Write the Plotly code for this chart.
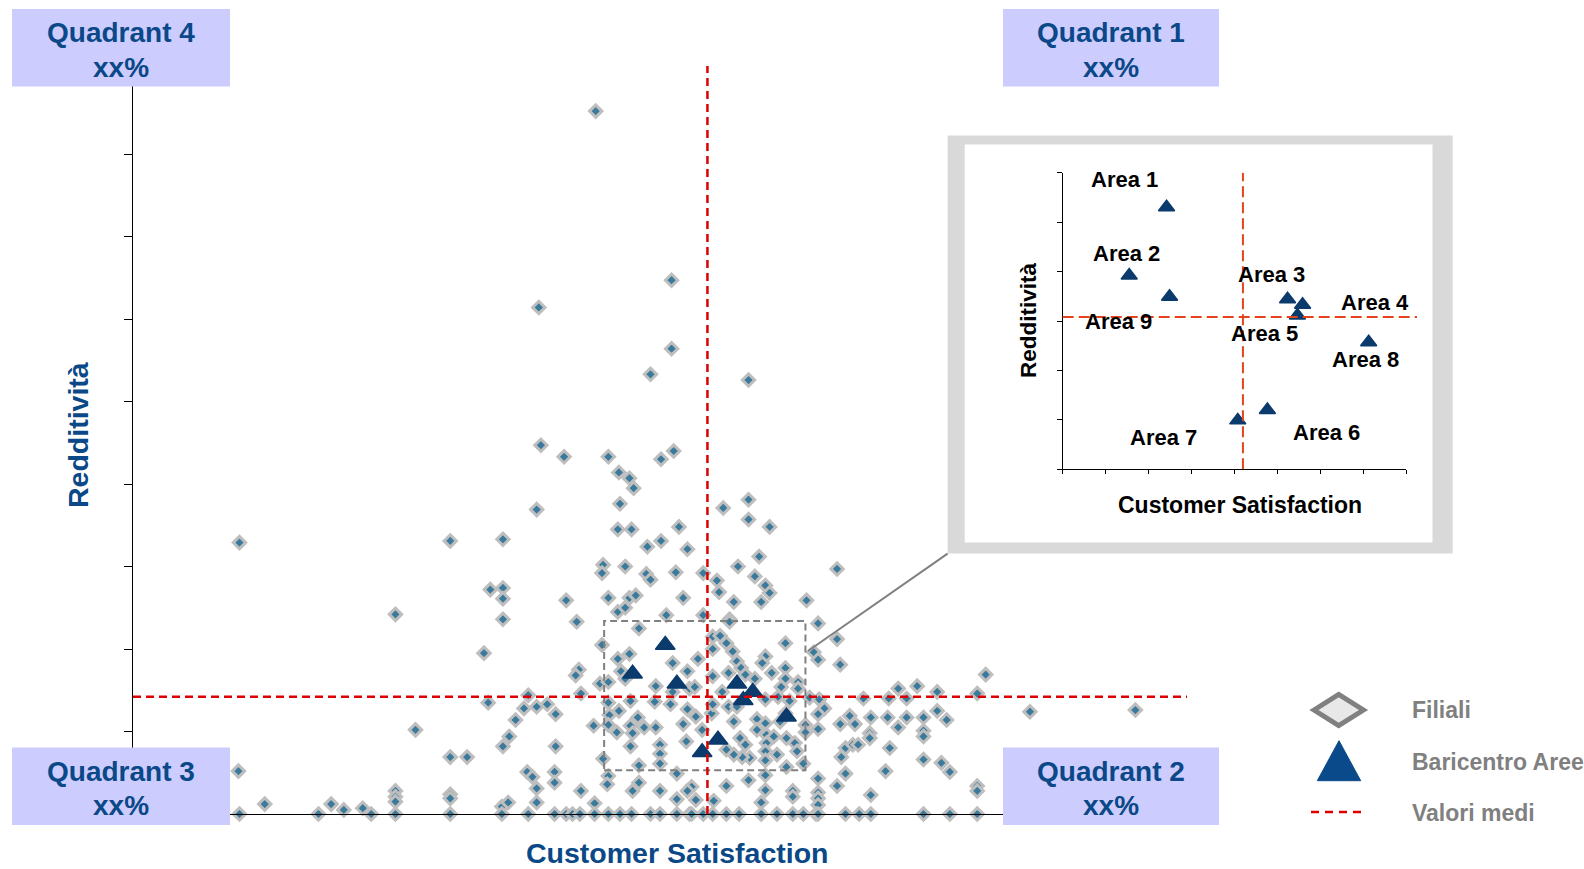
import plotly.graph_objects as go

W, H = 1584, 869


def px(x):
    """horizontal pixel -> paper fraction"""
    return x / W


def py(y):
    """vertical pixel (measured from the top) -> paper fraction"""
    return 1 - y / H


FONT = "Liberation Sans, Arial, sans-serif"
BLUE_TXT = "#0A4887"
RED = "#DD0000"
RED_ZOOM = "#E2441C"
GREY = "#808080"

# ---------------------------------------------------------------- data
# Filiali: Customer Satisfaction (x) vs Redditività (y)
filiali_cs = [
    43.9, 51.1, 38.5, 51.1, 49.1, 58.4, 38.7, 40.9, 45.1, 50.1,
    51.3, 46.1, 47.1, 47.5, 46.2, 38.3, 56.0, 58.4, 58.4, 60.4,
    30.1, 35.1, 46.0, 47.3, 51.8, 48.8, 50.1, 52.6, 59.4, 44.6,
    44.5, 46.7, 48.7, 49.1, 51.5, 54.1, 57.4, 59.0, 55.4, 60.0,
    60.4, 66.8, 55.6, 57.0, 59.6, 63.9, 33.9, 35.1, 35.1, 41.1,
    45.1, 47.1, 47.7, 52.2, 46.0, 46.7, 50.6, 54.1, 35.1, 56.6,
    42.1, 65.0, 10.1, 24.9, 26.8, 10.0, 12.5, 18.8, 20.0, 21.8,
    24.9, 24.9, 24.9, 30.1, 31.7, 30.1, 30.1,
    48.0, 33.3, 44.5, 46.0, 47.1, 46.3, 46.7, 42.3, 42.0, 44.3,
    45.1, 51.2, 53.6, 55.0, 55.0, 52.6, 49.6, 51.2, 52.8, 53.3,
    55.0, 37.5, 42.5, 33.7, 37.1, 38.3, 39.3, 40.1, 36.3, 35.7,
    35.1, 40.1, 43.7, 45.1, 45.2, 46.1, 45.1, 45.9, 47.2, 47.2,
    47.4, 47.9, 48.5, 49.5, 49.6, 51.0, 52.6, 53.4, 52.2, 54.0,
    52.5, 54.9, 55.0, 47.2, 50.0, 50.0, 50.0, 44.6, 48.0, 45.1,
    45.0, 48.0, 47.4, 51.6, 53.0, 52.6, 50.0, 51.6, 53.4, 37.4,
    37.9, 40.0, 40.0, 38.3, 38.3, 42.5, 43.8, 35.0, 35.6,
    56.6, 66.8, 64.6, 65.0, 67.1, 61.9, 55.7, 56.3, 56.9, 57.3,
    57.7, 60.0, 59.7, 60.6, 61.9, 56.5, 58.1, 59.0, 61.9, 61.5,
    63.1, 63.1, 55.9, 60.0, 61.2, 62.3, 64.2, 65.1, 65.6, 65.0,
    72.6, 74.4, 76.3, 80.1, 69.3, 71.7, 73.4, 56.5, 57.3, 59.2,
    57.0, 60.0, 61.4, 61.9, 63.8, 65.0, 67.1, 68.0, 68.5, 70.0,
    71.6, 73.4, 75.0, 76.3, 77.2, 72.6, 75.0, 75.0, 69.9, 69.9,
    59.2, 60.1, 60.8, 57.6, 58.1, 60.1, 60.0, 62.0, 62.8, 63.0,
    63.8, 61.1, 58.5, 57.8, 57.0, 56.3, 60.0, 62.0, 63.6, 67.6,
    67.2, 68.3, 68.8, 71.8, 75.0, 76.7, 77.5, 71.4, 67.6, 65.0,
    66.8, 58.4, 60.0, 56.3, 55.1, 60.0, 59.6, 62.6, 62.6, 65.0,
    65.0, 65.0, 70.0, 80.1, 80.1, 80.9, 85.1, 95.1,
    10.1, 17.6, 22.6, 24.9, 30.1, 35.0, 37.5, 40.0, 41.1, 41.7,
    42.4, 43.8, 45.1, 46.2, 47.3, 49.1, 50.0, 51.6, 52.8, 53.0,
    54.1, 55.0, 56.3, 57.5, 59.6, 61.1, 62.6, 63.6, 64.8, 65.0,
    67.6, 68.9, 70.0, 75.0, 77.5, 80.1,
]
filiali_red = [
    85.2, 64.7, 61.4, 56.4, 53.3, 52.6, 44.7, 43.3, 43.3, 43.0,
    44.0, 41.4, 40.7, 39.5, 37.6, 36.9, 37.1, 38.1, 35.7, 34.8,
    33.1, 33.3, 34.5, 34.5, 34.8, 32.4, 33.1, 32.1, 31.2, 30.2,
    29.2, 30.0, 29.1, 28.4, 29.3, 29.2, 30.0, 28.8, 28.3, 27.7,
    26.8, 29.7, 26.9, 25.7, 25.7, 25.9, 27.2, 27.4, 26.1, 25.9,
    26.2, 26.2, 26.5, 26.2, 24.5, 25.0, 24.1, 24.1, 23.6, 23.6,
    23.3, 23.1, 32.9, 24.2, 10.2, 5.2, 1.2, 1.2, 0.5, 0.7,
    2.8, 2.1, 1.5, 6.9, 6.9, 2.4, 1.9,
    22.5, 19.5, 20.5, 18.8, 19.4, 17.3, 16.4, 17.5, 16.8, 15.8,
    16.0, 18.3, 18.8, 21.5, 20.0, 17.3, 15.5, 14.8, 15.2, 15.4,
    16.7, 14.4, 14.6, 13.5, 12.8, 13.0, 13.3, 12.1, 11.4, 9.4,
    8.2, 8.2, 10.7, 13.5, 12.0, 12.5, 10.8, 9.9, 13.7, 10.7,
    9.8, 11.7, 10.5, 13.6, 10.5, 13.3, 12.7, 11.8, 10.9, 10.2,
    8.8, 12.2, 13.3, 8.2, 8.4, 7.3, 6.1, 6.7, 5.9, 4.6,
    3.6, 3.8, 2.8, 4.9, 3.3, 2.8, 2.8, 1.8, 1.7, 5.1,
    4.5, 5.1, 3.8, 3.1, 1.4, 2.8, 1.3, 0.9, 1.4,
    23.3, 21.2, 19.6, 18.7, 18.1, 20.7, 21.6, 20.7, 19.7, 18.5,
    17.7, 19.1, 18.3, 17.1, 17.7, 17.1, 16.9, 16.4, 16.4, 15.4,
    16.0, 15.2, 14.8, 13.9, 14.2, 13.7, 14.1, 13.9, 12.8, 12.1,
    15.2, 15.5, 14.8, 14.6, 14.0, 14.0, 14.0, 13.0, 13.0, 11.5,
    11.2, 11.0, 11.2, 12.2, 10.8, 10.3, 10.9, 11.9, 10.9, 11.7,
    11.7, 11.7, 11.7, 12.5, 11.4, 10.5, 10.1, 9.4, 9.8, 9.2,
    10.2, 9.6, 9.4, 9.2, 8.4, 8.6, 7.6, 9.2, 8.6, 7.6,
    9.9, 7.2, 6.8, 6.9, 7.2, 7.8, 6.5, 5.7, 6.1, 8.0,
    6.9, 8.4, 8.4, 8.0, 6.6, 6.2, 5.1, 5.2, 4.9, 4.3,
    3.4, 4.1, 4.7, 3.4, 1.6, 2.9, 1.4, 2.8, 2.1, 2.6,
    1.9, 1.1, 2.3, 3.4, 2.8, 16.9, 12.4, 12.6,
    0.0, 0.0, 0.0, 0.0, 0.0, 0.0, 0.0, 0.0, 0.0, 0.0,
    0.0, 0.0, 0.0, 0.0, 0.0, 0.0, 0.0, 0.0, 0.0, 0.0,
    0.0, 0.0, 0.0, 0.0, 0.0, 0.0, 0.0, 0.0, 0.0, 0.0,
    0.0, 0.0, 0.0, 0.0, 0.0, 0.0,
]

# Baricentro delle aree (main chart)
area_names = ["Area 1", "Area 2", "Area 3", "Area 4", "Area 5",
              "Area 6", "Area 7", "Area 8", "Area 9"]
area_cs = [50.5, 47.4, 57.3, 58.8, 57.9, 55.5, 54.0, 62.0, 51.6]
area_red = [20.5, 17.0, 15.8, 14.8, 13.8, 9.0, 7.5, 11.8, 15.8]

# Valori medi (main chart)
mean_cs = 54.5
mean_red = 14.2

# Zoomed detail of the area centroids (inset chart, own scale)
zoom_cs = [2.42, 1.55, 5.24, 5.59, 5.47, 4.77, 4.08, 7.13, 2.49]
zoom_red = [5.30, 3.92, 3.44, 3.33, 3.11, 1.20, 0.99, 2.57, 3.49]
zoom_mean_cs = 4.20
zoom_mean_red = 3.08

# Window of the main chart shown in the inset
zoom_window_cs = [44.7, 63.8]
zoom_window_red = [5.3, 23.4]

quadrants = ["Quadrant 1", "Quadrant 2", "Quadrant 3", "Quadrant 4"]
quadrant_share = ["xx%", "xx%", "xx%", "xx%"]

legend_items = ["Filiali", "Baricentro Aree", "Valori medi"]

# label offsets (pixels, right / down) of each area name in the inset
label_dx = [-42, -3, -16, 72, -33, 59, -74, -3, -51]
label_dy = [-28, -22, -25, -2, 18, 23, 17, 17, 25]

# ---------------------------------------------------------------- traces
fig = go.Figure()

fig.add_trace(go.Scatter(
    x=filiali_cs, y=filiali_red, mode="markers", xaxis="x", yaxis="y",
    cliponaxis=False, hoverinfo="skip",
    marker=dict(symbol="diamond", size=9.5, color="#3A7A9C",
                line=dict(color="#BEBEBE", width=3)),
))
fig.add_trace(go.Scatter(
    x=area_cs, y=area_red, mode="markers", xaxis="x", yaxis="y",
    cliponaxis=False, hoverinfo="skip",
    marker=dict(symbol="triangle-up", size=17, color="#0B3A6D",
                line=dict(color="#0B3A6D", width=1.5)),
))
fig.add_trace(go.Scatter(
    x=zoom_cs, y=zoom_red, mode="markers", xaxis="x2", yaxis="y2",
    cliponaxis=False, hoverinfo="skip",
    marker=dict(symbol="triangle-up", size=14, color="#0B3A6D",
                line=dict(color="#0B3A6D", width=1.5)),
))

# ---------------------------------------------------------------- shapes
shapes = []

# inset frame
shapes.append(dict(type="rect", xref="paper", yref="paper",
                   x0=px(947.6), x1=px(1452.7), y0=py(553.6), y1=py(135.4),
                   fillcolor="#D9D9D9", line=dict(width=0), layer="below"))
shapes.append(dict(type="rect", xref="paper", yref="paper",
                   x0=px(964.7), x1=px(1432.5), y0=py(542.5), y1=py(144.5),
                   fillcolor="white", line=dict(width=0), layer="below"))

# zoom window in the main chart and connector to the inset
shapes.append(dict(type="rect", xref="x", yref="y",
                   x0=zoom_window_cs[0], x1=zoom_window_cs[1],
                   y0=zoom_window_red[0], y1=zoom_window_red[1],
                   line=dict(color=GREY, width=2, dash="7px,4px"), layer="above"))
shapes.append(dict(type="line", xref="paper", yref="paper",
                   x0=px(808), y0=py(651), x1=px(947.6), y1=py(553.6),
                   line=dict(color=GREY, width=2), layer="above"))

# mean lines, main chart
shapes.append(dict(type="line", xref="x", yref="y", x0=0, x1=100,
                   y0=mean_red, y1=mean_red,
                   line=dict(color=RED, width=2.5, dash="8px,5px"), layer="above"))
shapes.append(dict(type="line", xref="x", yref="paper", x0=mean_cs, x1=mean_cs,
                   y0=py(814), y1=py(66),
                   line=dict(color=RED, width=2.5, dash="8px,5px"), layer="above"))

# mean lines, inset
shapes.append(dict(type="line", xref="x2", yref="y2", x0=zoom_mean_cs, x1=zoom_mean_cs,
                   y0=0, y1=6,
                   line=dict(color=RED_ZOOM, width=2, dash="11px,5px"), layer="above"))
shapes.append(dict(type="line", xref="paper", yref="y2", x0=px(1062.7), x1=px(1417),
                   y0=zoom_mean_red, y1=zoom_mean_red,
                   line=dict(color=RED_ZOOM, width=2, dash="11px,5px"), layer="above"))

# quadrant boxes: (left, top, right, bottom) in pixels
quad_boxes = {
    "Quadrant 1": (1003, 9, 1219, 86.5),
    "Quadrant 2": (1003, 747.5, 1219, 825),
    "Quadrant 3": (12, 747.5, 230, 825),
    "Quadrant 4": (12, 9, 230, 86.5),
}
for name in quadrants:
    l, t, r, b = quad_boxes[name]
    shapes.append(dict(type="rect", xref="paper", yref="paper",
                       x0=px(l), x1=px(r), y0=py(b), y1=py(t),
                       fillcolor="#CCCCFF", line=dict(width=0), layer="above"))


def path(points):
    return "M " + " L ".join(f"{px(x):.5f},{py(y):.5f}" for x, y in points) + " Z"


# legend symbols
shapes.append(dict(type="path", xref="paper", yref="paper",
                   path=path([(1314, 710), (1338.7, 694.5), (1363.4, 710), (1338.7, 725.5)]),
                   fillcolor="#E8E8E8", line=dict(color=GREY, width=5), layer="above"))
shapes.append(dict(type="path", xref="paper", yref="paper",
                   path=path([(1317.3, 780.7), (1360.7, 780.7), (1339, 740.7)]),
                   fillcolor="#0B4A8A", line=dict(color="#0B4A8A", width=1), layer="above"))
shapes.append(dict(type="line", xref="paper", yref="paper",
                   x0=px(1311), x1=px(1364), y0=py(812), y1=py(812),
                   line=dict(color=RED, width=2.5, dash="8px,6px"), layer="above"))

# ---------------------------------------------------------------- annotations
ann = []


def text(x, y, s, size, color, **kw):
    d = dict(x=px(x), y=py(y), xref="paper", yref="paper", text=f"<b>{s}</b>",
             showarrow=False, font=dict(family=FONT, size=size, color=color),
             xanchor="center", yanchor="middle")
    d.update(kw)
    ann.append(d)


for name, share in zip(quadrants, quadrant_share):
    l, t, r, b = quad_boxes[name]
    cx = (l + r) / 2
    text(cx, t + 23.5, name, 28, BLUE_TXT)
    text(cx, t + 58, share, 28, BLUE_TXT)

# main axis titles
text(677, 852.5, "Customer Satisfaction", 28.5, BLUE_TXT)
text(78, 435, "Redditività", 28.5, BLUE_TXT, textangle=-90)

# inset axis titles
text(1240, 505, "Customer Satisfaction", 23, "black")
text(1028, 320, "Redditività", 22.5, "black", textangle=-90)

# inset area labels
for name, xv, yv, dx, dy in zip(area_names, zoom_cs, zoom_red, label_dx, label_dy):
    ann.append(dict(x=xv, y=yv, xref="x2", yref="y2", text=f"<b>{name}</b>",
                    showarrow=False, xshift=dx, yshift=-dy,
                    font=dict(family=FONT, size=22, color="black"),
                    xanchor="center", yanchor="middle"))

# legend labels
for item, y in zip(legend_items, [710, 762, 813]):
    text(1410, y, item, 23, GREY, xanchor="left")

# ---------------------------------------------------------------- layout
fig.update_layout(
    width=W, height=H,
    margin=dict(l=0, r=0, t=0, b=0),
    paper_bgcolor="white",
    plot_bgcolor="rgba(0,0,0,0)",
    showlegend=False,
    shapes=shapes,
    annotations=ann,
    xaxis=dict(domain=[px(133), px(1187)], range=[0, 100], anchor="y",
               showline=True, linecolor="black", linewidth=1.3,
               showgrid=False, zeroline=False, showticklabels=False, ticks=""),
    yaxis=dict(domain=[py(814), py(71.5)], range=[0, 90], anchor="x",
               showline=True, linecolor="black", linewidth=1.3,
               showgrid=False, zeroline=False, showticklabels=False,
               ticks="outside", ticklen=8, tickwidth=1.2, tickcolor="black",
               tickvals=[0, 10, 20, 30, 40, 50, 60, 70, 80, 90]),
    xaxis2=dict(domain=[px(1062.7), px(1406)], range=[0, 8], anchor="y2",
                showline=True, linecolor="black", linewidth=1,
                showgrid=False, zeroline=False, showticklabels=False,
                ticks="outside", ticklen=4, tickwidth=1, tickcolor="black",
                tickvals=[0, 1, 2, 3, 4, 5, 6, 7, 8]),
    yaxis2=dict(domain=[py(469.3), py(172.7)], range=[0, 6], anchor="x2",
                showline=True, linecolor="black", linewidth=1,
                showgrid=False, zeroline=False, showticklabels=False,
                ticks="outside", ticklen=5, tickwidth=1, tickcolor="black",
                tickvals=[0, 1, 2, 3, 4, 5, 6]),
)

fig.write_html("out.html", config={"displayModeBar": False},
               post_script="document.body.style.margin='0';")
